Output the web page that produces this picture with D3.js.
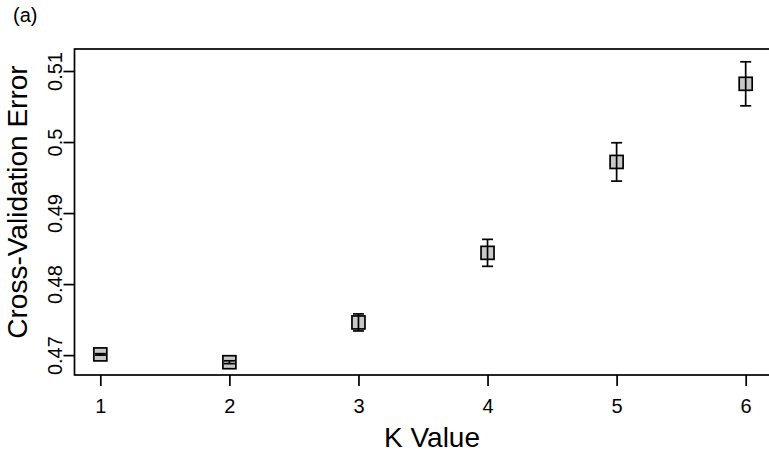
<!DOCTYPE html>
<html>
<head>
<meta charset="utf-8">
<script src="https://cdn.jsdelivr.net/npm/d3@7"></script>
<style>
  body { margin: 0; background: #fff; }
  svg { display: block; }
  svg text { font-family: "Liberation Sans", Arial, sans-serif; }
</style>
</head>
<body>
<svg id="chart"></svg>
<script>
// K values and the mean CV error with its spread
var kValues = [1, 2, 3, 4, 5, 6];
var cvError = [0.4701, 0.4690, 0.4746, 0.4844, 0.4972, 0.5082];
var cvSpread = [0.0001, 0.0002, 0.0012, 0.0019, 0.0027, 0.0031];
var xTicks = [1, 2, 3, 4, 5, 6];
var yTicks = [0.47, 0.48, 0.49, 0.50, 0.51];
var yTickLabels = ["0.47", "0.48", "0.49", "0.5", "0.51"];

window.onload = function() {
    var width = 769,
	height = 456;
    var left = 74.5, top = 49, bottom = 375, right = 771.5;

    var svg = d3.select("#chart")
	.attr("width", width)
	.attr("height", height);

    var x = d3.scaleLinear().domain([0.8, 6.2]).range([left, right]);
    var y = d3.scaleLinear().domain([0.4672, 0.5131]).range([bottom, top]);

    var pts = kValues.map(function(k, i) {
	return {k: k, v: cvError[i], e: cvSpread[i]};
    });

    // x axis
    var xa = svg.append("g")
	.attr("transform", "translate(0," + bottom + ")")
	.call(d3.axisBottom(x).tickValues(xTicks).tickSize(11).tickPadding(13).tickFormat(d3.format("d")));
    xa.attr("font-family", null);
    xa.select(".domain").remove();
    xa.selectAll("line").attr("stroke", "#000").attr("stroke-width", 1.7);
    xa.selectAll("text").attr("font-size", 20).attr("fill", "#000").attr("dy", "0.72em");

    // y axis with rotated labels
    var ya = svg.append("g")
	.attr("transform", "translate(" + left + ",0)")
	.call(d3.axisLeft(y).tickValues(yTicks).tickSize(11)
	      .tickFormat(function(d, i) { return yTickLabels[i]; }));
    ya.attr("font-family", null);
    ya.select(".domain").remove();
    ya.selectAll("line").attr("stroke", "#000").attr("stroke-width", 1.7);
    ya.selectAll("text")
	.attr("font-size", 20).attr("fill", "#000")
	.attr("text-anchor", "middle")
	.attr("dy", null)
	.attr("transform", "rotate(-90)")
	.attr("x", 0).attr("y", -12.5);

    // plot box
    svg.append("rect")
	.attr("x", left).attr("y", top)
	.attr("width", right - left).attr("height", bottom - top)
	.attr("fill", "none").attr("stroke", "#000").attr("stroke-width", 1.7);

    // markers
    svg.selectAll("rect.pt")
	.data(pts)
	.enter().append("rect")
	.attr("class", "pt")
	.attr("x", function(d) { return x(d.k) - 6.5; })
	.attr("y", function(d) { return y(d.v) - 6.5; })
	.attr("width", 13).attr("height", 13)
	.attr("fill", "#c8c8c8")
	.attr("stroke", "#000")
	.attr("stroke-width", 1.7);

    // error bars drawn over the squares
    var eb = svg.selectAll("g.eb")
	.data(pts)
	.enter().append("g")
	.attr("class", "eb")
	.attr("stroke", "#000")
	.attr("stroke-width", 1.7);
    eb.append("line")
	.attr("x1", function(d) { return x(d.k); })
	.attr("x2", function(d) { return x(d.k); })
	.attr("y1", function(d) { return y(d.v + d.e); })
	.attr("y2", function(d) { return y(d.v - d.e); });
    eb.append("line")
	.attr("x1", function(d) { return x(d.k) - 5.5; })
	.attr("x2", function(d) { return x(d.k) + 5.5; })
	.attr("y1", function(d) { return y(d.v + d.e); })
	.attr("y2", function(d) { return y(d.v + d.e); });
    eb.append("line")
	.attr("x1", function(d) { return x(d.k) - 5.5; })
	.attr("x2", function(d) { return x(d.k) + 5.5; })
	.attr("y1", function(d) { return y(d.v - d.e); })
	.attr("y2", function(d) { return y(d.v - d.e); });

    // titles
    svg.append("text")
	.attr("x", 432).attr("y", 447)
	.attr("text-anchor", "middle")
	.attr("font-size", 28)
	.text("K Value");

    svg.append("text")
	.attr("transform", "translate(27,202) rotate(-90)")
	.attr("text-anchor", "middle")
	.attr("font-size", 28)
	.text("Cross-Validation Error");

    svg.append("text")
	.attr("x", 13).attr("y", 22)
	.attr("font-size", 20)
	.text("(a)");
}
</script>
</body>
</html>
